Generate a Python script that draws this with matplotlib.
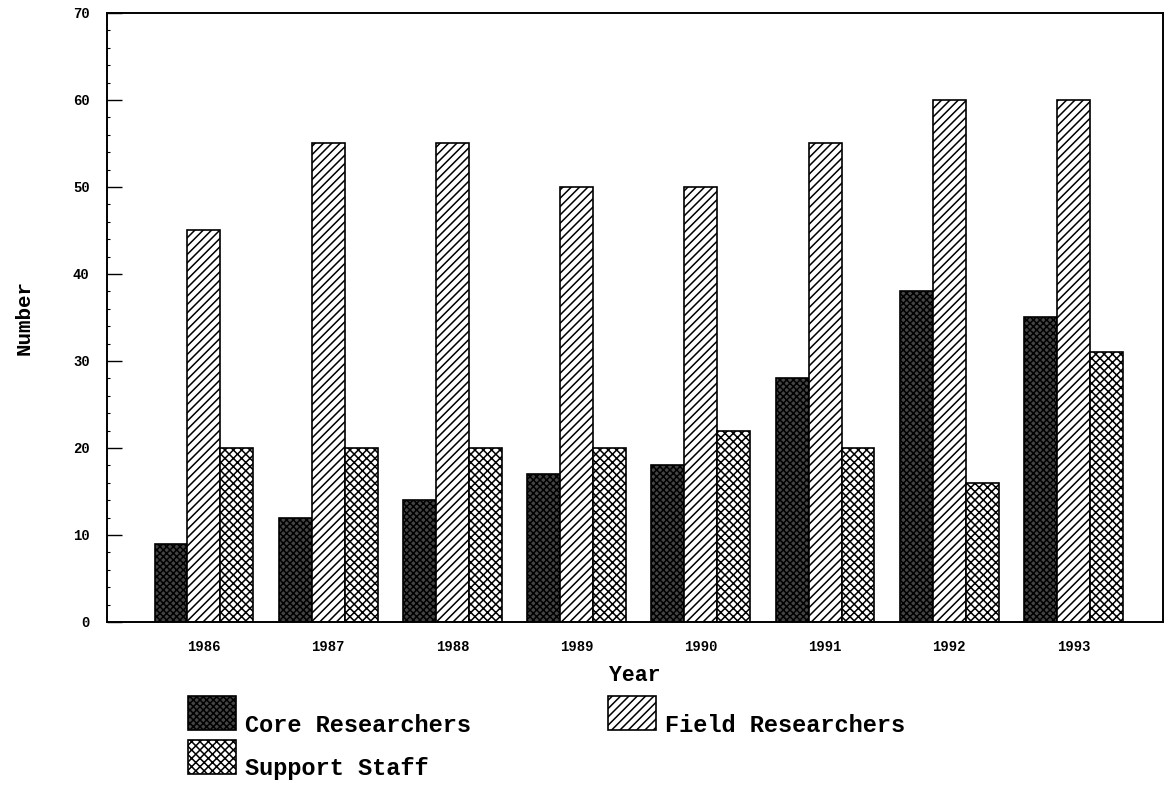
import matplotlib
matplotlib.use("Agg")
import matplotlib.pyplot as plt
from matplotlib.patches import Rectangle
from matplotlib.ticker import MultipleLocator
import numpy as np

# Datos
years = ['1986', '1987', '1988', '1989', '1990', '1991', '1992', '1993']
core = [9, 12, 14, 17, 18, 28, 38, 35]
field = [45, 55, 55, 50, 50, 55, 60, 60]
support = [20, 20, 20, 20, 22, 20, 16, 31]

FONT = 'Liberation Mono'
plt.rcParams['font.family'] = FONT
plt.rcParams['font.weight'] = 'bold'
plt.rcParams['hatch.linewidth'] = 1.1

series = [
    ('Core Researchers', core, '#444444', 'xxxxx'),
    ('Field Researchers', field, 'white', '////'),
    ('Support Staff', support, 'white', 'xxxx'),
]

fig = plt.figure(figsize=(11.7, 7.87), dpi=100)
ax = fig.add_axes([0.0915, 0.2097, 0.9025, 0.7738])

x = np.arange(len(years))
w = 0.265
for i, (name, vals, fc, hatch) in enumerate(series):
    ax.bar(x + (i - 1) * w, vals, w, color=fc, edgecolor='black',
           hatch=hatch, linewidth=1.2)

ax.set_xlim(-0.78, 7.72)
ax.set_ylim(0, 70)
ax.yaxis.set_major_locator(MultipleLocator(10))
ax.yaxis.set_minor_locator(MultipleLocator(2))
ax.tick_params(axis='y', which='major', direction='in', length=11, width=1,
               labelsize=10, pad=12.5)
ax.tick_params(axis='y', which='minor', direction='in', length=2, width=0.8)
ax.set_xticks(x)
ax.set_xticklabels(years)
ax.tick_params(axis='x', length=0, labelsize=10, pad=13)
for lab in ax.get_xticklabels() + ax.get_yticklabels():
    lab.set_fontweight('bold')
for s in ax.spines.values():
    s.set_linewidth(1.4)

ax.set_xlabel('Year', fontsize=15.5, fontweight='bold', labelpad=8)
ax.set_ylabel('Number', fontsize=15, fontweight='bold', labelpad=28)

# Leyenda dibujada a mano debajo del eje
pos = [(0.161, 0.072, 0), (0.52, 0.072, 1), (0.161, 0.017, 2)]
for (lx, ly, k) in pos:
    name, vals, fc, hatch = series[k]
    fig.patches.append(Rectangle((lx, ly), 0.041, 0.043, transform=fig.transFigure,
                                 facecolor=fc, edgecolor='black', hatch=hatch,
                                 linewidth=1.2))
    fig.text(lx + 0.048, ly - 0.008, name, fontsize=17, fontweight='bold',
             va='bottom', ha='left')

fig.savefig('out.png', dpi=100)
